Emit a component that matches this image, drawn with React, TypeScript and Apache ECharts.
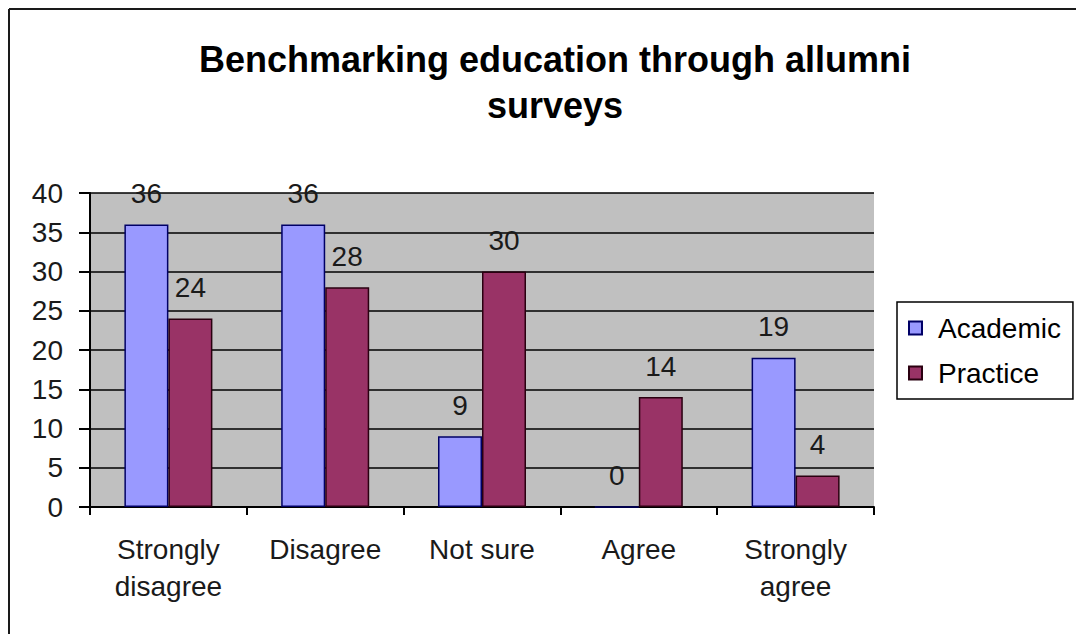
import React, { useEffect, useRef } from "react";
import * as echarts from "echarts";

const categories = ["Strongly\ndisagree", "Disagree", "Not sure", "Agree", "Strongly\nagree"];
const academic = [36, 36, 9, 0, 19];
const practice = [24, 28, 30, 14, 4];
const seriesNames = ["Academic", "Practice"];
const titleText = "Benchmarking education through allumni\nsurveys";
const yMin = 0;
const yMax = 40;
const yStep = 5;

const FONT = "'Liberation Sans', Arial, sans-serif";

export default function App() {
  const ref = useRef<HTMLDivElement>(null);
  useEffect(() => {
    if (!ref.current) return;
    const chart = echarts.init(ref.current, undefined, { renderer: "svg" });
    const labelStyle = {
      show: true,
      position: "top" as const,
      distance: 17,
      fontSize: 28,
      lineHeight: 28,
      color: "#1a1a1a",
      fontFamily: FONT,
    };
    chart.setOption({
      animation: false,
      backgroundColor: "#ffffff",
      textStyle: { fontFamily: FONT },
      title: {
        text: titleText,
        left: 550,
        textAlign: "center",
        top: 31,
        textStyle: {
          fontSize: 36,
          fontWeight: "bold",
          lineHeight: 46,
          color: "#000",
          fontFamily: FONT,
        },
      },
      graphic: [
        { type: "line", shape: { x1: 9, y1: 9, x2: 1076, y2: 9 }, style: { stroke: "#1a1a1a", lineWidth: 2 } },
        { type: "line", shape: { x1: 9, y1: 9, x2: 9, y2: 634 }, style: { stroke: "#1a1a1a", lineWidth: 2 } },
      ],
      legend: {
        orient: "vertical",
        left: 897,
        top: 302,
        padding: [12, 12, 12, 11],
        itemGap: 17,
        itemWidth: 13,
        itemHeight: 13,
        icon: "rect",
        borderColor: "#000",
        borderWidth: 1.5,
        backgroundColor: "#fff",
        textStyle: {
          fontSize: 28,
          lineHeight: 28,
          color: "#000",
          fontFamily: FONT,
          padding: [0, 0, 0, 11],
        },
        data: seriesNames,
      },
      grid: {
        left: 90,
        top: 193,
        right: 202,
        bottom: 127,
        show: true,
        backgroundColor: "#c0c0c0",
        borderWidth: 0,
      },
      xAxis: {
        type: "category",
        data: categories,
        boundaryGap: true,
        axisLine: { show: true, lineStyle: { color: "#000", width: 2 } },
        axisTick: { show: true, length: 8, lineStyle: { color: "#000", width: 2 } },
        axisLabel: {
          fontSize: 28,
          lineHeight: 37,
          margin: 24,
          color: "#1a1a1a",
          fontFamily: FONT,
          interval: 0,
        },
        splitLine: { show: false },
      },
      yAxis: {
        type: "value",
        min: yMin,
        max: yMax,
        interval: yStep,
        axisLine: { show: true, lineStyle: { color: "#000", width: 2 } },
        axisTick: { show: true, length: 11, lineStyle: { color: "#000", width: 2 } },
        axisLabel: {
          fontSize: 28,
          margin: 27,
          color: "#1a1a1a",
          fontFamily: FONT,
        },
        splitLine: { show: true, lineStyle: { color: "#000", width: 1.5 } },
      },
      series: [
        {
          name: seriesNames[0],
          type: "bar",
          data: academic,
          barWidth: 44,
          barGap: "0%",
          itemStyle: { color: "#9999ff", borderColor: "#000066", borderWidth: 1.5 },
          label: labelStyle,
        },
        {
          name: seriesNames[1],
          type: "bar",
          data: practice,
          barWidth: 44,
          barGap: "0%",
          itemStyle: { color: "#993366", borderColor: "#2a0010", borderWidth: 1.5 },
          label: labelStyle,
        },
      ],
    });
    return () => chart.dispose();
  }, []);
  return (
    <div
      ref={ref}
      style={{ position: "fixed", left: 0, top: 0, width: 1076, height: 634, background: "#fff" }}
    />
  );
}
